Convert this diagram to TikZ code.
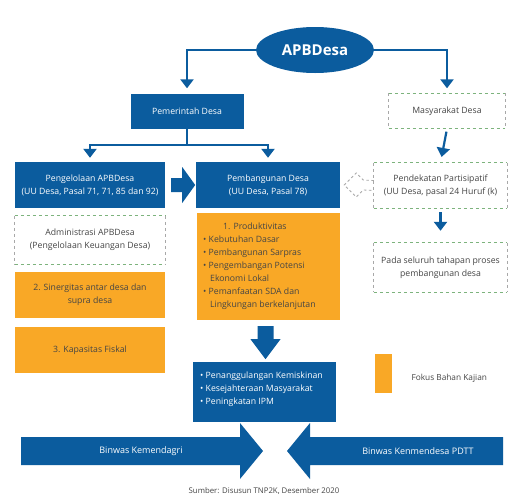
\documentclass[tikz,border=0pt]{standalone}
\usepackage{fontspec}
\setmainfont{Open Sans}
\usetikzlibrary{arrows.meta,shapes.geometric,calc}
\definecolor{bblue}{HTML}{0B5C9E}
\definecolor{borange}{HTML}{F9A826}
\definecolor{dgreen}{HTML}{7DB37D}
\definecolor{dgray}{HTML}{A8A8A8}
\definecolor{tgray}{HTML}{454545}
\begin{document}
\begin{tikzpicture}[x=1pt,y=-1pt,
  bluebox/.style={rectangle,fill=bblue,text=white,align=center,inner sep=2pt,font=\fontsize{8.7}{12.8}\selectfont},
  orbox/.style={rectangle,fill=borange,text=tgray,align=center,inner sep=2pt,font=\fontsize{8.7}{12.8}\selectfont},
  dashbox/.style={rectangle,text=tgray,align=center,inner sep=2pt,font=\fontsize{8.7}{12.8}\selectfont},
  arr/.style={draw=bblue,line width=2.2pt,-{Triangle[width=13pt,length=9pt]}},
  ln/.style={draw=bblue,line width=2.2pt}]
\useasboundingbox (0,0) rectangle (513,498);
\fill[white] (0,0) rectangle (513,498);

% nodes
\node[ellipse,fill=bblue,text=white,font=\fontsize{15}{18}\selectfont\bfseries,minimum width=118pt,minimum height=46pt,inner sep=0pt] (apb) at (315,50) {APBDesa};
\node[bluebox,minimum width=113pt,minimum height=35pt] (pem) at (187,111) {Pemerintah Desa};
\node[dashbox,minimum width=116pt,minimum height=35pt] (mas) at (447,111) {Masyarakat Desa};
\node[bluebox,minimum width=150pt,minimum height=46pt] (peng) at (90,185) {Pengelolaan APBDesa\\(UU Desa, Pasal 71, 71, 85 dan 92)};
\node[bluebox,minimum width=144pt,minimum height=46pt] (pbd) at (268,185) {Pembangunan Desa\\(UU Desa, Pasal 78)};
\node[dashbox,minimum width=133pt,minimum height=45pt] (pend) at (440.5,185.5) {Pendekatan Partisipatif\\(UU Desa, pasal 24 Huruf (k)};
\node[dashbox,minimum width=133pt,minimum height=49pt] (pada) at (440.5,267.5) {Pada seluruh tahapan proses\\pembangunan desa};
\node[dashbox,minimum width=150pt,minimum height=48pt] (adm) at (90,240) {Administrasi APBDesa\\(Pengelolaan Keuangan Desa)};
\node[orbox,minimum width=150pt,minimum height=46pt] (sin) at (90,295) {2. Sinergitas antar desa dan\\supra desa};
\node[orbox,minimum width=150pt,minimum height=46pt] (kap) at (90,350) {3. Kapasitas Fiskal};
\node[orbox,minimum width=143pt,minimum height=107pt] (prod) at (268.5,266.5) {};
\node[text=tgray,font=\fontsize{8.7}{13}\selectfont,anchor=north west,align=left,inner sep=0pt] (prodt) at (203,223) {\hspace*{2.3em}1. Produktivitas\\
\textbullet\ Kebutuhan Dasar\\
\textbullet\ Pembangunan Sarpras\\
\textbullet\ Pengembangan Potensi\\
\hspace*{0.8em}Ekonomi Lokal\\
\textbullet\ Pemanfaatan SDA dan\\
\hspace*{0.8em}Lingkungan berkelanjutan};
\node[bluebox,minimum width=143pt,minimum height=60pt] (out) at (264.5,392) {};
\node[text=white,font=\fontsize{8.7}{13}\selectfont,anchor=north west,align=left,inner sep=0pt] (outt) at (200,372) {\textbullet\ Penanggulangan Kemiskinan\\
\textbullet\ Kesejahteraan Masyarakat\\
\textbullet\ Peningkatan IPM};
\node[rectangle,fill=borange,minimum width=17pt,minimum height=39pt,inner sep=0pt] (leg) at (383.5,373.5) {};
\node[text=tgray,font=\fontsize{8.3}{10}\selectfont,anchor=west] (legt) at (408,378) {Fokus Bahan Kajian};

% dashed borders
\foreach \n in {mas,pend,pada,adm}{
  \draw[dgreen,line width=0.9pt,dash pattern=on 3pt off 3pt] (\n.north west) -- (\n.north east);
  \draw[dgreen,line width=0.9pt,dash pattern=on 3pt off 3pt] (\n.south west) -- (\n.south east);
  \draw[dgray,line width=0.7pt,dash pattern=on 3pt off 3pt] (\n.north west) -- (\n.south west);
  \draw[dgray,line width=0.7pt,dash pattern=on 3pt off 3pt] (\n.north east) -- (\n.south east);
}

% connectors
\draw[arr,shorten >=5pt] (apb.west) -| (pem.north);
\draw[arr,shorten >=5pt] (apb.east) -| (mas.north);
\draw[ln] (pem.south) -- ++(0,16) coordinate (j);
\draw[arr,shorten >=4pt] (j) -| (peng.north);
\draw[arr,shorten >=4pt] (j) -| (pbd.north);
\draw[arr,shorten <=3pt,shorten >=6pt] (mas.south) -- (pend.north);
\draw[arr,shorten <=4pt,shorten >=12pt] (pend.south) -- (pada.north);

% block arrow peng -> pbd
\coordinate (ba) at ($(peng.east)+(6,0)$);
\fill[bblue] ($(ba)+(0,-7)$) -- ++(11,0) -- ++(0,-11) -- ($(ba)+(24,0)$) -- ($(ba)+(11,18)$) -- ++(0,-11) -- ($(ba)+(0,7)$) -- cycle;

% dashed block arrow pend -> pbd
\coordinate (da) at ($(pbd.east)+(4,0)$);
\draw[dgray,line width=0.8pt,dash pattern=on 2.5pt off 2.5pt] ($(pend.west)+(0,-5)$) -- ($(da)+(19,-5)$) -- ($(da)+(12,-12)$) -- (da) -- ($(da)+(12,12)$) -- ($(da)+(19,5)$) -- ($(pend.west)+(0,5)$);

% block arrow prod -> out
\coordinate (bd) at ($(prod.south)+(-3,6)$);
\fill[bblue] ($(bd)+(-8,0)$) -- ++(0,13) -- ++(-7,0) -- ($(bd)+(0,33)$) -- ($(bd)+(15,13)$) -- ++(-7,0) -- ($(bd)+(8,0)$) -- cycle;

% bottom arrows
\coordinate (lt) at (263,451);
\coordinate (rt) at (287,451);
\fill[bblue] (21,437) -- (240,437) -- (240,423) -- (lt) -- (240,479) -- (240,465) -- (21,465) -- cycle;
\fill[bblue] (503,437) -- (310,437) -- (310,423) -- (rt) -- (310,479) -- (310,465) -- (503,465) -- cycle;
\node[text=white,font=\fontsize{9}{10}\selectfont] (bk) at (141,451) {Binwas Kemendagri};
\node[text=white,font=\fontsize{9}{10}\selectfont] (bn) at (418,451) {Binwas Kenmendesa PDTT};
\node[text=tgray,font=\fontsize{7.8}{9}\selectfont] (src) at (264,491) {Sumber: Disusun TNP2K, Desember 2020};
\end{tikzpicture}
\end{document}
